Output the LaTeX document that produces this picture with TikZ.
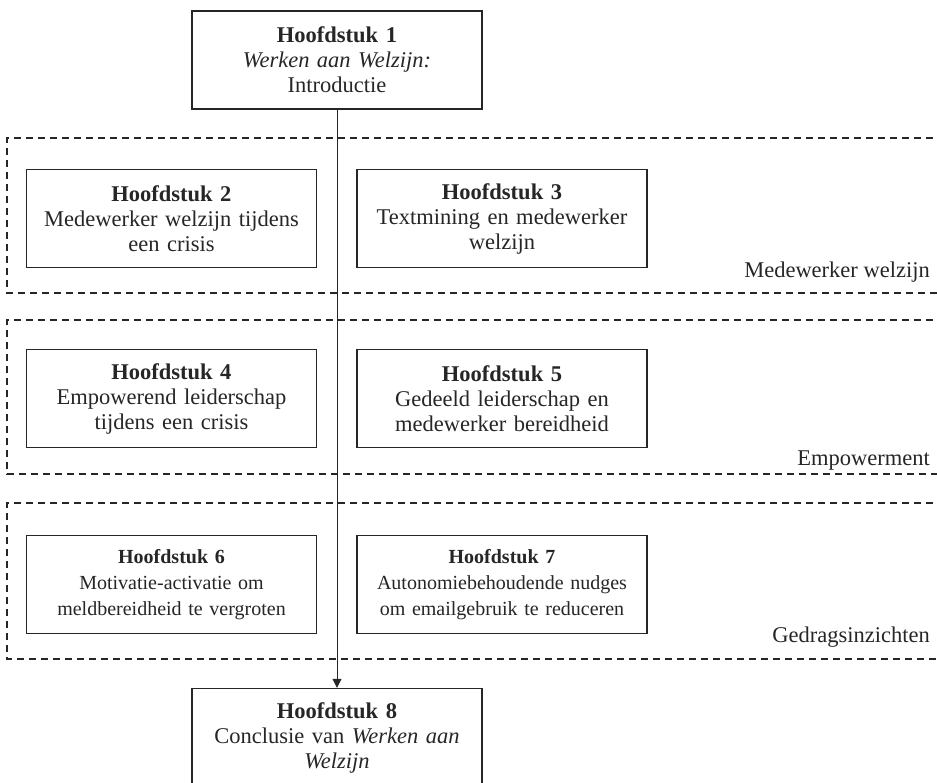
\documentclass[tikz,border=0pt]{standalone}
\usepackage{fontspec}
\setmainfont{Liberation Serif}
\usetikzlibrary{arrows.meta}
\begin{document}
\begin{tikzpicture}[x=1pt,y=-1pt,
  chapter/.style={draw=black!85, line width=1.4pt, minimum width=290pt,
    minimum height=98pt, text width=286pt, align=center, inner sep=0pt,
    text=black!85, font=\fontsize{22.5}{25}\selectfont},
  smallchapter/.style={chapter, font=\fontsize{20}{26}\selectfont},
  group/.style={draw=black!85, line width=1.3pt, dash pattern=on 7pt off 5pt},
  grouplabel/.style={anchor=east, inner sep=0pt, text=black!85,
    font=\fontsize{22.5}{25}\selectfont},
  flow/.style={draw=black!85, line width=0.8pt, -{Triangle[width=9pt,length=9pt]}}]
\useasboundingbox (0,0) rectangle (937,782);

% theme groups (open on the right)
\draw[group] (945,138) -| (7,293) -- (945,293);
\draw[group] (945,320) -| (7,474) -- (945,474);
\draw[group] (945,503) -| (7,659) -- (945,659);

\node[grouplabel] (g1) at (930,272) {Medewerker welzijn};
\node[grouplabel] (g2) at (930,461) {Empowerment};
\node[grouplabel] (g3) at (930,637) {Gedragsinzichten};

% chapters
\node[chapter] (ch1) at (337,60) {\textbf{Hoofdstuk 1}\\ \textit{Werken aan Welzijn:}\\ Introductie};
\node[chapter, fill=white] (ch2) at (171.5,218.5) {\textbf{Hoofdstuk 2}\\ Medewerker welzijn tijdens\\ een crisis};
\node[chapter, fill=white] (ch3) at (502,218.5) {\textbf{Hoofdstuk 3}\\ Textmining en medewerker\\ welzijn};
\node[chapter, fill=white] (ch4) at (171.5,398.5) {\textbf{Hoofdstuk 4}\\ Empowerend leiderschap\\ tijdens een crisis};
\node[chapter, fill=white] (ch5) at (502,398.5) {\textbf{Hoofdstuk 5}\\ Gedeeld leiderschap en\\ medewerker bereidheid};
\node[smallchapter, fill=white] (ch6) at (171.5,584.5) {\textbf{Hoofdstuk 6}\\ Motivatie-activatie om\\ meldbereidheid te vergroten};
\node[smallchapter, fill=white] (ch7) at (502,584.5) {\textbf{Hoofdstuk 7}\\ Autonomiebehoudende nudges\\ om emailgebruik te reduceren};
\node[chapter] (ch8) at (337,737.5) {\textbf{Hoofdstuk 8}\\ Conclusie van \textit{Werken aan}\\ \textit{Welzijn}};

% reading line from introduction to conclusion
\draw[flow] (ch1.south) -- (ch8.north);
\end{tikzpicture}
\end{document}
